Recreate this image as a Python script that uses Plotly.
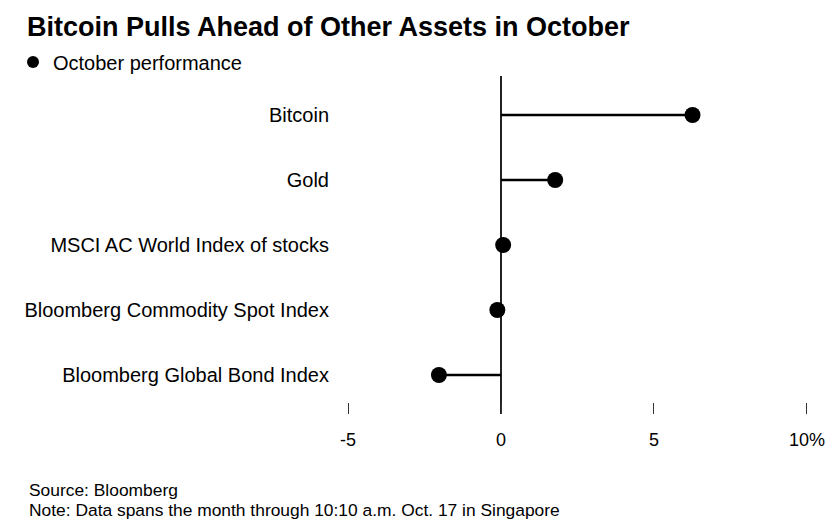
import plotly.graph_objects as go

# Data (top to bottom in chart)
assets = [
    "Bitcoin",
    "Gold",
    "MSCI AC World Index of stocks",
    "Bloomberg Commodity Spot Index",
    "Bloomberg Global Bond Index",
]
october_perf = [6.26, 1.77, 0.07, -0.12, -2.03]

x_tickvals = [-5, 0, 5, 10]
x_ticktext = ["-5", "0", "5", "10%"]

title_text = "Bitcoin Pulls Ahead of Other Assets in October"
legend_name = "October performance"
source_text = "Source: Bloomberg"
note_text = "Note: Data spans the month through 10:10 a.m. Oct. 17 in Singapore"

FONT = "Liberation Sans, Arial, Helvetica, sans-serif"
# page body has an 8px margin; figure sized to fit the 834x527 window
W, H = 826, 519
ML, MR, MT, MB = 337, 24, 68, 113
plot_h = H - MT - MB
plot_w = W - ML - MR

# stems from 0 to value
stem_x, stem_y = [], []
for a, v in zip(assets, october_perf):
    stem_x += [0, v, None]
    stem_y += [a, a, None]

fig = go.Figure()
fig.add_trace(go.Scatter(
    x=stem_x, y=stem_y, mode="lines",
    line=dict(color="#000000", width=2.5),
    showlegend=False, hoverinfo="skip",
))
fig.add_trace(go.Scatter(
    x=october_perf, y=assets, mode="markers",
    marker=dict(color="#000000", size=16),
    name=legend_name, showlegend=True,
))

fig.update_layout(
    width=W, height=H,
    margin=dict(l=ML, r=MR, t=MT, b=MB, pad=0, autoexpand=False),
    paper_bgcolor="white", plot_bgcolor="white",
    font=dict(family=FONT, color="#000000", size=18),
    title=dict(
        text="<b>" + title_text + "</b>",
        font=dict(family=FONT, size=27, color="#000000"),
        x=19 / W, xanchor="left", xref="container",
        y=1 - 19 / H, yanchor="middle", yref="container",
    ),
    legend=dict(
        orientation="h",
        x=(5 - ML) / plot_w, xanchor="left", xref="paper",
        y=(H - MB - 54) / plot_h, yanchor="middle", yref="paper",
        font=dict(family=FONT, size=20, color="#000000"),
        itemsizing="constant",
        bgcolor="rgba(0,0,0,0)",
    ),
    showlegend=True,
    xaxis=dict(
        range=[-5.1, 10.1],
        tickvals=x_tickvals, ticktext=x_ticktext,
        ticks="inside", ticklen=11, tickwidth=1, tickcolor="#333333",
        tickfont=dict(family=FONT, size=18, color="#000000"),
        showgrid=False, showline=False, automargin=False,
        zeroline=True, zerolinecolor="#222222", zerolinewidth=1.5,
        ticklabelstandoff=13,
    ),
    yaxis=dict(
        type="category",
        categoryorder="array", categoryarray=assets[::-1],
        range=[-0.6, 4.6],
        showgrid=False, showline=False, zeroline=False, automargin=False,
        ticks="", ticklabelstandoff=15,
        tickfont=dict(family=FONT, size=20, color="#000000"),
    ),
    annotations=[
        dict(text=source_text, xref="paper", yref="paper",
             x=(19 - ML) / plot_w, y=(H - MB - 482) / plot_h,
             xanchor="left", yanchor="middle", showarrow=False,
             font=dict(family=FONT, size=17.4, color="#000000")),
        dict(text=note_text, xref="paper", yref="paper",
             x=(19 - ML) / plot_w, y=(H - MB - 502) / plot_h,
             xanchor="left", yanchor="middle", showarrow=False,
             font=dict(family=FONT, size=17.4, color="#000000")),
    ],
)

fig.write_html("out.html")
